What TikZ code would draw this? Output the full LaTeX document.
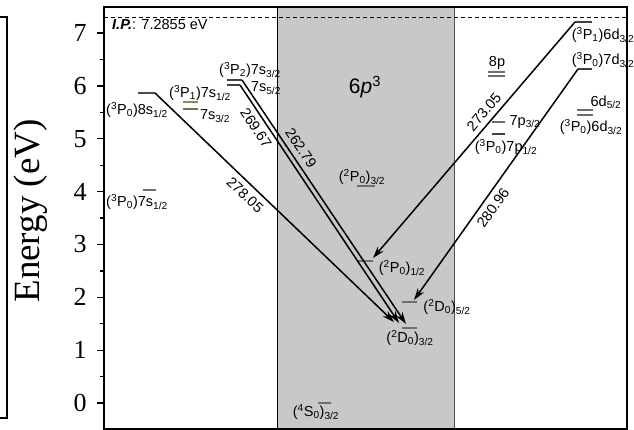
\documentclass[tikz,border=0pt]{standalone}
\usepackage{fontspec}
\setmainfont{Liberation Serif}
\newfontfamily\arial{Liberation Sans}
\usetikzlibrary{arrows.meta}
\definecolor{regiongray}{RGB}{200,200,200}
\definecolor{lvl}{RGB}{110,110,110}
\newcommand\Su[1]{\textsuperscript{#1}}
\newcommand\Sb[1]{\textsubscript{#1}}
\tikzset{
  lab/.style={font=\arial\fontsize{14.5}{16}\selectfont, inner sep=0pt},
  wl/.style={font=\arial\fontsize{14.5}{16}\selectfont, inner sep=0pt},
  lev/.style={draw=lvl, line width=1.4pt},
  trans/.style={draw=black, line width=1.5pt, -{Stealth[length=12pt,width=7.5pt]}},
  axisline/.style={line width=1.3pt},
  ticklab/.style={font=\fontsize{26}{28}\selectfont, inner sep=0pt},
}
\begin{document}
\begin{tikzpicture}[x=1pt,y=-1pt]
\useasboundingbox (0,0) rectangle (634,430);
% left neighbouring panel edge
\draw[axisline] (0,17) -- (7,17) -- (7,418) -- (0,418);
% shaded 6p3 region
\fill[regiongray] (277,7) rectangle (454,429);
\draw[line width=0.8pt] (277,7) -- (277,429);
\draw[line width=1pt, gray!60!black] (454,7) -- (454,429);
\node[font=\arial\fontsize{21}{24}\selectfont] (cfg) at (365,87) {6\textit{p}\Su{3}};
% ionisation limit
\draw[dashed, dash pattern=on 4pt off 3pt, line width=0.9pt] (104,17) -- (627,17);
\node[lab, anchor=west] (ip) at (112,25) {{\bfseries\itshape I.P.}: 7.2855 eV};
% energy levels
\draw[lev, draw=black!70] (138,93) coordinate (s8L) -- (155,93) coordinate (s8R);
\draw[lev] (143,190) -- (156,190) coordinate (s7R);
\draw[lev, draw={rgb,255:red,170;green,130;blue,80}] (183,102) -- (198,102);
\draw[lev] (183,109) -- (198,109);
\draw[lev, draw=black!75] (227,80) -- (242,80) coordinate (p2a);
\draw[lev, draw=black!75] (227,85) -- (240,85) coordinate (p2b);
\draw[lev] (357,186) -- (375,186);
\draw[lev] (358,261) -- (373,261);
\draw[lev] (402,302) -- (417,302);
\draw[lev] (402,328) -- (417,328);
\draw[lev] (318,403) -- (331,403);
\draw[lev] (488,72) -- (505,72);
\draw[lev] (488,76) -- (505,76);
\draw[lev] (492,122) -- (505,122);
\draw[lev, draw=black!75] (492,134) -- (505,134);
\draw[lev] (577,110) -- (593,110);
\draw[lev] (577,115) -- (593,115);
\draw[lev, draw=black!75] (578,69) coordinate (d7L) -- (592,69);
\draw[lev, draw=black!75] (575,22) coordinate (d6L) -- (592,22);
% arrow targets
\coordinate (tA) at (394,322);
\coordinate (tB) at (399,323);
\coordinate (tC) at (406,324);
\coordinate (tP) at (373,258);
\coordinate (tD) at (414,300);
% transitions
\draw[trans] (s8R) -- (tA);
\draw[trans] (p2b) -- (tB);
\draw[trans] (p2a) -- (tC);
\draw[trans] (d6L) -- (tP);
\draw[trans] (d7L) -- (tD);
\node[wl, rotate=-43.7] (w1) at (245,195) {278.05};
\node[wl, rotate=-56.4] (w2) at (256,128) {269.67};
\node[wl, rotate=-56.3] (w3) at (301,148) {262.79};
\node[wl, rotate=49.4] (w4) at (484,112) {273.05};
\node[wl, rotate=54.5] (w5) at (493,208) {280.96};
% level labels
\node[lab] (l8s) at (137,110) {(\Su{3}P\Sb{0})8s\Sb{1/2}};
\node[lab] (l7s) at (137,202) {(\Su{3}P\Sb{0})7s\Sb{1/2}};
\node[lab] (l71) at (200,93) {(\Su{3}P\Sb{1})7s\Sb{1/2}};
\node[lab] (l73) at (215,116) {7s\Sb{3/2}};
\node[lab] (l72) at (250,70) {(\Su{3}P\Sb{2})7s\Sb{3/2}};
\node[lab] (l75) at (266,88) {7s\Sb{5/2}};
\node[lab] (lp3) at (362,177) {(\Su{2}P\Sb{0})\Sb{3/2}};
\node[lab] (lp1) at (402,268) {(\Su{2}P\Sb{0})\Sb{1/2}};
\node[lab] (ld5) at (447,307) {(\Su{2}D\Sb{0})\Sb{5/2}};
\node[lab] (ld3) at (410,338) {(\Su{2}D\Sb{0})\Sb{3/2}};
\node[lab] (ls3) at (316,412) {(\Su{4}S\Sb{0})\Sb{3/2}};
\node[lab] (l8p) at (497,63) {8p};
\node[lab] (l7p3) at (525,122) {7p\Sb{3/2}};
\node[lab] (l7p1) at (506,147) {(\Su{3}P\Sb{0})7p\Sb{1/2}};
\node[lab] (l6d5) at (606,102) {6d\Sb{5/2}};
\node[lab] (l6d3) at (591,127) {(\Su{3}P\Sb{0})6d\Sb{3/2}};
\node[lab] (l7d) at (603,60) {(\Su{3}P\Sb{0})7d\Sb{3/2}};
\node[lab] (l6d) at (603,35) {(\Su{3}P\Sb{1})6d\Sb{3/2}};
% frame and axis
\draw[axisline] (104,7) rectangle (627,429);
\foreach \e in {0,...,7} {
  \draw[axisline] (97,{403-52.85*\e}) -- (104,{403-52.85*\e});
  \node[ticklab] (t\e) at (80,{403-52.85*\e}) {\e};
}
\foreach \e in {0.5,1.5,...,6.5} {
  \draw[axisline] (100,{403-52.85*\e}) -- (104,{403-52.85*\e});
}
\node[font=\fontsize{37}{40}\selectfont, rotate=90, inner sep=0pt] (ylab) at (31,211) {Energy (eV)};
\end{tikzpicture}
\end{document}
